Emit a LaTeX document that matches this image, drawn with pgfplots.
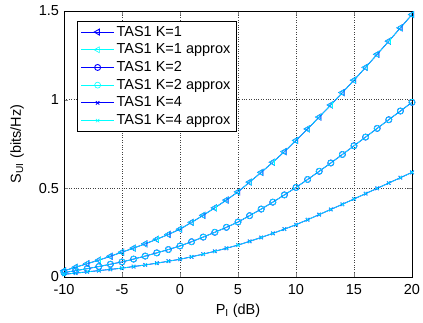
\documentclass[border=0pt]{standalone}
\usepackage{fontspec}
\setmainfont{Liberation Sans}
\usepackage{pgfplots}
\pgfplotsset{compat=1.18}
\usepackage{pgfplotstable}
\pgfplotstableread{
x k1 k2 k4
-10 0.035 0.025 0.015
-9 0.055 0.036 0.022
-8 0.075 0.047 0.029
-7 0.095 0.059 0.036
-6 0.117 0.072 0.043
-5 0.140 0.085 0.050
-4 0.163 0.101 0.059
-3 0.187 0.118 0.068
-2 0.213 0.136 0.078
-1 0.240 0.155 0.089
0 0.270 0.175 0.100
1 0.308 0.199 0.114
2 0.348 0.225 0.129
3 0.390 0.252 0.145
4 0.434 0.280 0.162
5 0.480 0.310 0.180
6 0.535 0.346 0.201
7 0.590 0.383 0.223
8 0.647 0.422 0.246
9 0.707 0.463 0.270
10 0.770 0.505 0.295
11 0.835 0.550 0.323
12 0.902 0.596 0.352
13 0.970 0.643 0.381
14 1.040 0.691 0.410
15 1.110 0.740 0.440
16 1.182 0.789 0.470
17 1.256 0.838 0.500
18 1.330 0.887 0.530
19 1.405 0.936 0.560
20 1.480 0.985 0.590
}\data
\definecolor{mcyan}{RGB}{0,255,255}
\begin{document}
\fontsize{14.5}{17}\selectfont
\begin{tikzpicture}
\begin{axis}[
  scale only axis,
  width=348pt, height=266pt,
  xmin=-10, xmax=20, ymin=0, ymax=1.5,
  xtick={-10,-5,...,20}, ytick={0,0.5,1,1.5},
  yticklabels={0,0.5,1,1.5},
  scaled y ticks=false,
  tick align=inside, tick pos=both,
  major tick length=4pt,
  grid=major,
  major grid style={black!75, dotted, line width=0.6pt},
  axis line style={black, line width=0.7pt},
  /pgf/number format/assume math mode=true,
  ticklabel style={font=\fontsize{14.5}{17}\selectfont},
  xticklabel style={yshift=-2.5pt},
  label style={font=\fontsize{14.5}{17}\selectfont},
  xlabel={P\textsubscript{I} (dB)},
  ylabel={S\textsubscript{UI} (bits/Hz)},
  xlabel style={yshift=1pt},
  ylabel style={yshift=5pt},
  legend style={at={(0.037,0.962)}, anchor=north west, draw=black, line width=0.6pt,
    font=\fontsize{14.5}{17}\selectfont, row sep=1.4pt, inner xsep=3.5pt, inner ysep=2.5pt},
  legend cell align=left,
  legend image code/.code={\draw[mark repeat=2,mark phase=2] plot coordinates {(0pt,0pt) (16.5pt,0pt) (33pt,0pt)};},
]
\addplot[blue, line width=0.9pt, mark=triangle, mark size=3.4pt, mark options={rotate=90}] table[x=x,y=k1]{\data};
\addlegendentry{TAS1 K=1}
\addplot[mcyan, line width=0.6pt, mark=triangle, mark size=3.4pt, mark options={rotate=90}] table[x=x,y=k1]{\data};
\addlegendentry{TAS1 K=1 approx}
\addplot[blue, line width=0.9pt, mark=o, mark size=3pt] table[x=x,y=k2]{\data};
\addlegendentry{TAS1 K=2}
\addplot[mcyan, line width=0.6pt, mark=o, mark size=3pt] table[x=x,y=k2]{\data};
\addlegendentry{TAS1 K=2 approx}
\addplot[blue, line width=0.9pt, mark=x, mark size=2.4pt] table[x=x,y=k4]{\data};
\addlegendentry{TAS1 K=4}
\addplot[mcyan, line width=0.6pt, mark=x, mark size=2.4pt] table[x=x,y=k4]{\data};
\addlegendentry{TAS1 K=4 approx}
\end{axis}
\pgfresetboundingbox
\useasboundingbox (-64pt,-45pt) rectangle (359pt,277pt);
\end{tikzpicture}
\end{document}
